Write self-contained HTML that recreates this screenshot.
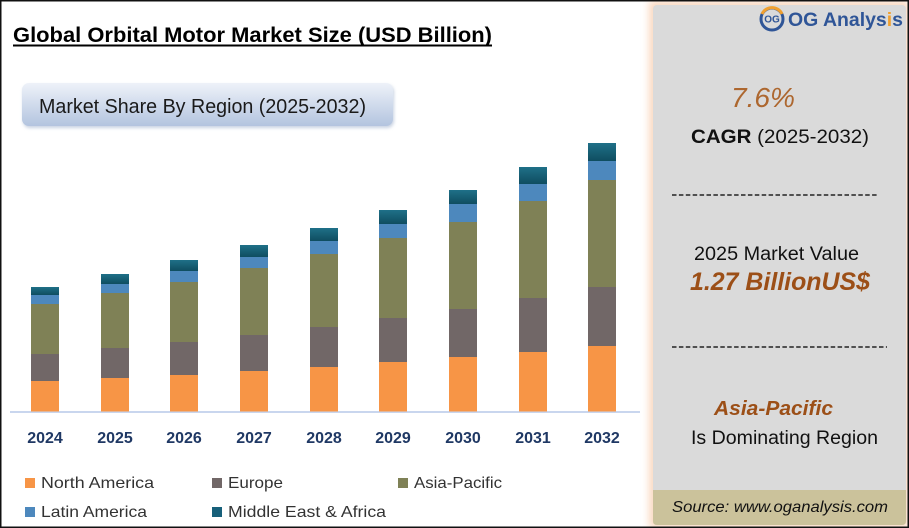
<!DOCTYPE html>
<html>
<head>
<meta charset="utf-8">
<style>
html,body{margin:0;padding:0;background:#fff;}
svg{display:block;}
text{font-family:"Liberation Sans",sans-serif;}
</style>
</head>
<body>
<svg width="909" height="528" viewBox="0 0 909 528" xmlns="http://www.w3.org/2000/svg">
<defs>
  <linearGradient id="boxg" x1="0" y1="0" x2="0" y2="1">
    <stop offset="0" stop-color="#eef2f9"/>
    <stop offset="1" stop-color="#b3c4df"/>
  </linearGradient>
  <linearGradient id="teal" x1="0" y1="0" x2="0" y2="1">
    <stop offset="0" stop-color="#1f7088"/>
    <stop offset="1" stop-color="#0f4d60"/>
  </linearGradient>
  <filter id="blur" x="-10%" y="-10%" width="120%" height="120%">
    <feGaussianBlur stdDeviation="4"/>
  </filter>
  <filter id="sh" x="-5%" y="-20%" width="110%" height="150%">
    <feGaussianBlur stdDeviation="1.5"/>
  </filter>
</defs>

<rect x="0" y="0" width="909" height="528" fill="#fff"/>

<!-- Title -->
<text x="13" y="42" font-size="21" font-weight="bold" fill="#000" textLength="479" lengthAdjust="spacingAndGlyphs">Global Orbital Motor Market Size (USD Billion)</text>
<line x1="13" y1="45.5" x2="492" y2="45.5" stroke="#000" stroke-width="2"/>

<!-- Market share box -->
<rect x="23" y="85" width="371" height="43" rx="7" fill="#c8d2e2" filter="url(#sh)"/>
<rect x="22" y="83" width="371" height="43" rx="7" fill="url(#boxg)"/>
<text x="39" y="113" font-size="20" fill="#1a1a1a" textLength="327" lengthAdjust="spacingAndGlyphs">Market Share By Region (2025-2032)</text>

<!-- Axis -->
<line x1="10" y1="412" x2="640" y2="412" stroke="#c9d6ee" stroke-width="2"/>

<!-- Bars -->
<g>
  <rect x="31" y="381" width="28" height="30.5" fill="#f79546"/>
  <rect x="31" y="354" width="28" height="27" fill="#716767"/>
  <rect x="31" y="304" width="28" height="50" fill="#7f8156"/>
  <rect x="31" y="295" width="28" height="9" fill="#4d88bd"/>
  <rect x="31" y="287" width="28" height="8" fill="url(#teal)"/>

  <rect x="101" y="378" width="28" height="33.5" fill="#f79546"/>
  <rect x="101" y="348" width="28" height="30" fill="#716767"/>
  <rect x="101" y="293" width="28" height="55" fill="#7f8156"/>
  <rect x="101" y="284" width="28" height="9" fill="#4d88bd"/>
  <rect x="101" y="274" width="28" height="10" fill="url(#teal)"/>

  <rect x="170" y="375" width="28" height="36.5" fill="#f79546"/>
  <rect x="170" y="342" width="28" height="33" fill="#716767"/>
  <rect x="170" y="282" width="28" height="60" fill="#7f8156"/>
  <rect x="170" y="271" width="28" height="11" fill="#4d88bd"/>
  <rect x="170" y="260" width="28" height="11" fill="url(#teal)"/>

  <rect x="240" y="371" width="28" height="40.5" fill="#f79546"/>
  <rect x="240" y="335" width="28" height="36" fill="#716767"/>
  <rect x="240" y="268" width="28" height="67" fill="#7f8156"/>
  <rect x="240" y="257" width="28" height="11" fill="#4d88bd"/>
  <rect x="240" y="245" width="28" height="12" fill="url(#teal)"/>

  <rect x="310" y="367" width="28" height="44.5" fill="#f79546"/>
  <rect x="310" y="327" width="28" height="40" fill="#716767"/>
  <rect x="310" y="254" width="28" height="73" fill="#7f8156"/>
  <rect x="310" y="241" width="28" height="13" fill="#4d88bd"/>
  <rect x="310" y="228" width="28" height="13" fill="url(#teal)"/>

  <rect x="379" y="362" width="28" height="49.5" fill="#f79546"/>
  <rect x="379" y="318" width="28" height="44" fill="#716767"/>
  <rect x="379" y="238" width="28" height="80" fill="#7f8156"/>
  <rect x="379" y="224" width="28" height="14" fill="#4d88bd"/>
  <rect x="379" y="210" width="28" height="14" fill="url(#teal)"/>

  <rect x="449" y="357" width="28" height="54.5" fill="#f79546"/>
  <rect x="449" y="309" width="28" height="48" fill="#716767"/>
  <rect x="449" y="222" width="28" height="87" fill="#7f8156"/>
  <rect x="449" y="204" width="28" height="18" fill="#4d88bd"/>
  <rect x="449" y="190" width="28" height="14" fill="url(#teal)"/>

  <rect x="519" y="352" width="28" height="59.5" fill="#f79546"/>
  <rect x="519" y="298" width="28" height="54" fill="#716767"/>
  <rect x="519" y="201" width="28" height="97" fill="#7f8156"/>
  <rect x="519" y="184" width="28" height="17" fill="#4d88bd"/>
  <rect x="519" y="167" width="28" height="17" fill="url(#teal)"/>

  <rect x="588" y="346" width="28" height="65.5" fill="#f79546"/>
  <rect x="588" y="287" width="28" height="59" fill="#716767"/>
  <rect x="588" y="180" width="28" height="107" fill="#7f8156"/>
  <rect x="588" y="161" width="28" height="19" fill="#4d88bd"/>
  <rect x="588" y="143" width="28" height="18" fill="url(#teal)"/>
</g>

<!-- Year labels -->
<g font-size="16" font-weight="bold" fill="#1f3864" text-anchor="middle">
  <text x="45" y="443">2024</text>
  <text x="115" y="443">2025</text>
  <text x="184" y="443">2026</text>
  <text x="254" y="443">2027</text>
  <text x="324" y="443">2028</text>
  <text x="393" y="443">2029</text>
  <text x="463" y="443">2030</text>
  <text x="533" y="443">2031</text>
  <text x="602" y="443">2032</text>
</g>

<!-- Legend -->
<g font-size="16" fill="#333">
  <rect x="25" y="478" width="10" height="10" fill="#f79546"/>
  <text x="41" y="488" textLength="113" lengthAdjust="spacingAndGlyphs">North America</text>
  <rect x="212" y="478" width="10" height="10" fill="#716767"/>
  <text x="228" y="488" textLength="55" lengthAdjust="spacingAndGlyphs">Europe</text>
  <rect x="398" y="478" width="10" height="10" fill="#7f8156"/>
  <text x="414" y="488" textLength="88" lengthAdjust="spacingAndGlyphs">Asia-Pacific</text>
  <rect x="25" y="507" width="10" height="10" fill="#4d88bd"/>
  <text x="41" y="517" textLength="106" lengthAdjust="spacingAndGlyphs">Latin America</text>
  <rect x="212" y="507" width="10" height="10" fill="#17607a"/>
  <text x="228" y="517" textLength="158" lengthAdjust="spacingAndGlyphs">Middle East &amp; Africa</text>
</g>

<!-- Right panel glow -->
<rect x="649" y="1" width="260" height="527" fill="#f6b88c" opacity="0.55" filter="url(#blur)"/>
<rect x="653" y="5" width="253" height="520" rx="4" fill="#dadada"/>
<path d="M653 490 H906 V521 Q906 525 902 525 H657 Q653 525 653 521 Z" fill="#cbc29b"/>

<!-- Logo -->
<circle cx="772" cy="19" r="11" fill="none" stroke="#2f5597" stroke-width="3"/>
<path d="M762 14 A11 11 0 0 1 782 14" fill="none" stroke="#f0a030" stroke-width="3"/>
<text x="772" y="22.5" font-size="10" font-weight="bold" fill="#2f5597" text-anchor="middle">OG</text>
<text x="788" y="26" font-size="19.5" font-weight="bold" fill="#2f5597" textLength="115" lengthAdjust="spacingAndGlyphs">OG Analys<tspan fill="#f0a030">i</tspan>s</text>

<!-- Panel text -->
<text x="731" y="107" font-size="28" font-style="italic" fill="#ad672f" textLength="64" lengthAdjust="spacingAndGlyphs">7.6%</text>
<text x="691" y="143" font-size="19" fill="#111" textLength="178" lengthAdjust="spacingAndGlyphs"><tspan font-weight="bold">CAGR</tspan> (2025-2032)</text>
<line x1="672" y1="195" x2="879" y2="195" stroke="#222" stroke-width="1.6" stroke-dasharray="4.5 2.4"/>
<text x="694" y="260" font-size="19" fill="#111" textLength="165" lengthAdjust="spacingAndGlyphs">2025 Market Value</text>
<text x="690" y="290" font-size="25" font-weight="bold" font-style="italic" fill="#9c4f17" textLength="180" lengthAdjust="spacingAndGlyphs">1.27 BillionUS$</text>
<line x1="672" y1="347" x2="887" y2="347" stroke="#222" stroke-width="1.6" stroke-dasharray="4.5 2.4"/>
<text x="714" y="415" font-size="20" font-weight="bold" font-style="italic" fill="#9c4f17" textLength="119" lengthAdjust="spacingAndGlyphs">Asia-Pacific</text>
<text x="691" y="444" font-size="19" fill="#111" textLength="187" lengthAdjust="spacingAndGlyphs">Is Dominating Region</text>
<text x="672" y="512" font-size="16" font-style="italic" fill="#111" textLength="216" lengthAdjust="spacingAndGlyphs">Source: www.oganalysis.com</text>

<!-- Outer border -->
<rect x="0.75" y="0.75" width="907.5" height="526.5" fill="none" stroke="#111" stroke-width="1.5"/>
</svg>
</body>
</html>
